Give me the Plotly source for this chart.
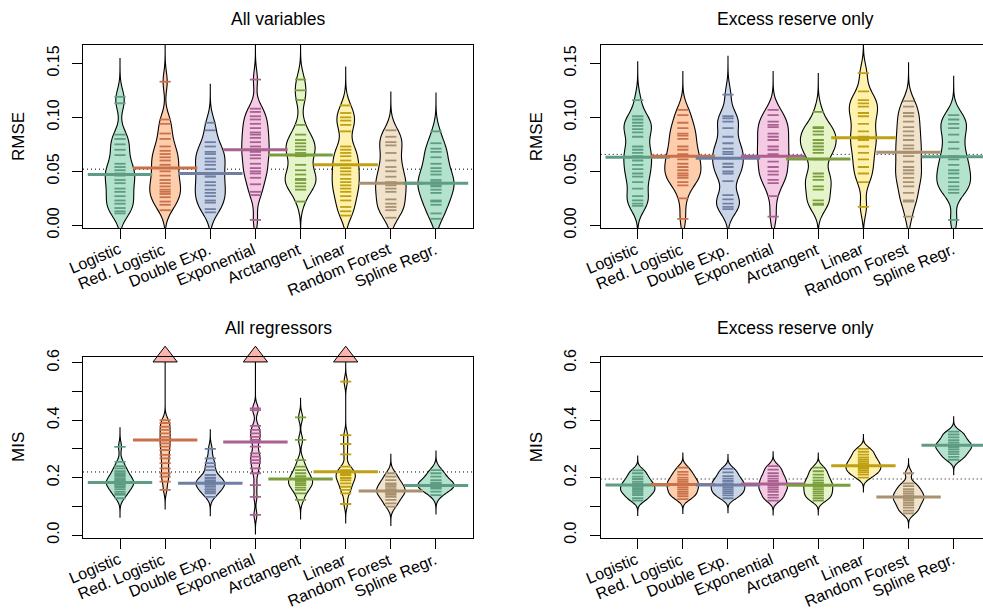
import plotly.graph_objects as go

# ---------------- data ----------------
categories = ["Logistic", "Red. Logistic", "Double Exp.", "Exponential",
              "Arctangent", "Linear", "Random Forest", "Spline Regr."]
positions = [1, 2, 3, 4, 5, 6, 7, 8]

panel_titles = ["All variables", "Excess reserve only", "All regressors", "Excess reserve only"]
y_labels = ["RMSE", "RMSE", "MIS", "MIS"]

# Panel 1: RMSE, all variables
rmse_all = [
    [0.119, 0.113, 0.084, 0.080, 0.075, 0.070, 0.065, 0.057, 0.054, 0.051, 0.048, 0.046,
     0.042, 0.039, 0.034, 0.031, 0.027, 0.023, 0.020, 0.016, 0.013, 0.011],
    [0.133, 0.098, 0.094, 0.085, 0.080, 0.073, 0.069, 0.066, 0.063, 0.060, 0.056, 0.053,
     0.050, 0.046, 0.042, 0.039, 0.036, 0.033, 0.031, 0.029, 0.026, 0.022, 0.019, 0.014],
    [0.095, 0.088, 0.077, 0.073, 0.068, 0.066, 0.062, 0.059, 0.056, 0.052, 0.047, 0.045,
     0.040, 0.037, 0.033, 0.030, 0.027, 0.023, 0.021, 0.015, 0.012],
    [0.135, 0.108, 0.105, 0.101, 0.098, 0.094, 0.090, 0.086, 0.084, 0.081, 0.077, 0.073,
     0.070, 0.068, 0.065, 0.062, 0.057, 0.053, 0.050, 0.048, 0.044, 0.038, 0.031, 0.028, 0.005],
    [0.135, 0.125, 0.116, 0.093, 0.084, 0.079, 0.076, 0.073, 0.070, 0.067, 0.064, 0.056,
     0.051, 0.047, 0.043, 0.042, 0.039, 0.036, 0.033, 0.022],
    [0.111, 0.104, 0.100, 0.097, 0.093, 0.087, 0.073, 0.070, 0.067, 0.064, 0.060, 0.056,
     0.053, 0.050, 0.047, 0.043, 0.040, 0.037, 0.034, 0.031, 0.027, 0.023, 0.017, 0.013, 0.009],
    [0.088, 0.082, 0.077, 0.074, 0.067, 0.060, 0.054, 0.050, 0.045, 0.040, 0.037, 0.034,
     0.031, 0.024, 0.020, 0.017, 0.014, 0.007],
    [0.087, 0.076, 0.071, 0.068, 0.063, 0.057, 0.053, 0.050, 0.047, 0.042, 0.040, 0.037,
     0.036, 0.033, 0.030, 0.023, 0.022, 0.019, 0.011, 0.006],
]
rmse_all_means = [0.047, 0.053, 0.048, 0.070, 0.065, 0.056, 0.039, 0.039]
rmse_all_overall = 0.052

# Panel 2: RMSE, excess reserve only
rmse_er = [
    [0.116, 0.101, 0.098, 0.095, 0.092, 0.089, 0.086, 0.082, 0.073, 0.070, 0.067, 0.064,
     0.060, 0.056, 0.052, 0.048, 0.045, 0.040, 0.034, 0.027, 0.023, 0.020, 0.018],
    [0.107, 0.102, 0.095, 0.090, 0.085, 0.083, 0.080, 0.073, 0.070, 0.066, 0.064, 0.061,
     0.057, 0.054, 0.051, 0.048, 0.046, 0.044, 0.040, 0.037, 0.025, 0.006],
    [0.121, 0.101, 0.099, 0.096, 0.090, 0.082, 0.076, 0.071, 0.068, 0.066, 0.062, 0.057,
     0.054, 0.050, 0.048, 0.041, 0.028, 0.024, 0.020, 0.017, 0.015],
    [0.107, 0.102, 0.096, 0.093, 0.091, 0.085, 0.082, 0.079, 0.073, 0.070, 0.066, 0.064,
     0.059, 0.054, 0.050, 0.047, 0.042, 0.039, 0.027, 0.008],
    [0.105, 0.091, 0.090, 0.087, 0.084, 0.079, 0.076, 0.073, 0.070, 0.067, 0.061, 0.048,
     0.045, 0.042, 0.036, 0.033, 0.023, 0.020, 0.019],
    [0.141, 0.124, 0.116, 0.113, 0.110, 0.104, 0.101, 0.094, 0.087, 0.082, 0.079, 0.073,
     0.067, 0.061, 0.054, 0.048, 0.040, 0.017],
    [0.115, 0.110, 0.104, 0.101, 0.096, 0.091, 0.087, 0.083, 0.079, 0.074, 0.071, 0.067,
     0.064, 0.059, 0.054, 0.051, 0.048, 0.044, 0.040, 0.036, 0.030, 0.023, 0.022, 0.008],
    [0.102, 0.098, 0.094, 0.090, 0.084, 0.077, 0.071, 0.064, 0.061, 0.056, 0.051, 0.048,
     0.044, 0.040, 0.036, 0.033, 0.030, 0.005],
]
rmse_er_means = [0.063, 0.064, 0.062, 0.064, 0.0615, 0.081, 0.0676, 0.0636]
rmse_er_overall = 0.0657

# Panel 3: MIS, all regressors (values above 0.6 are off-scale)
mis_all = [
    [0.307, 0.255, 0.240, 0.232, 0.222, 0.215, 0.209, 0.203, 0.197, 0.192, 0.188, 0.185,
     0.180, 0.178, 0.175, 0.170, 0.167, 0.160, 0.151, 0.145, 0.140, 0.128],
    [1.400, 1.100, 0.950, 0.820, 0.720, 0.400, 0.390, 0.377, 0.366, 0.354, 0.342, 0.331,
     0.319, 0.308, 0.296, 0.279, 0.267, 0.250, 0.232, 0.215, 0.203, 0.186, 0.157],
    [0.300, 0.267, 0.250, 0.238, 0.226, 0.209, 0.200, 0.197, 0.190, 0.186, 0.183, 0.180,
     0.177, 0.175, 0.168, 0.160, 0.157, 0.150, 0.145, 0.133],
    [1.300, 1.050, 0.900, 0.800, 0.700, 0.441, 0.435, 0.380, 0.366, 0.354, 0.342, 0.331,
     0.308, 0.284, 0.273, 0.261, 0.250, 0.232, 0.215, 0.174, 0.133, 0.070],
    [0.410, 0.331, 0.261, 0.238, 0.226, 0.215, 0.205, 0.197, 0.190, 0.186, 0.180, 0.174,
     0.165, 0.157, 0.145, 0.122],
    [1.200, 0.950, 0.850, 0.534, 0.348, 0.317, 0.281, 0.238, 0.226, 0.220, 0.215, 0.209,
     0.200, 0.197, 0.190, 0.180, 0.168, 0.157, 0.145, 0.108],
    [0.215, 0.203, 0.191, 0.180, 0.175, 0.168, 0.160, 0.157, 0.150, 0.145, 0.140, 0.133,
     0.122, 0.110, 0.099],
    [0.226, 0.215, 0.203, 0.191, 0.182, 0.180, 0.174, 0.170, 0.165, 0.162, 0.151, 0.139],
]
mis_all_means = [0.183, 0.331, 0.180, 0.324, 0.195, 0.2205, 0.153, 0.172]
mis_all_overall = 0.2195

# Panel 4: MIS, excess reserve only
mis_er = [
    [0.225, 0.215, 0.203, 0.195, 0.186, 0.180, 0.174, 0.168, 0.162, 0.157, 0.151, 0.145,
     0.139, 0.128, 0.120],
    [0.235, 0.220, 0.210, 0.200, 0.192, 0.185, 0.178, 0.172, 0.165, 0.158, 0.150, 0.143,
     0.135, 0.125],
    [0.230, 0.218, 0.205, 0.196, 0.188, 0.180, 0.174, 0.167, 0.160, 0.153, 0.146, 0.138, 0.128],
    [0.240, 0.228, 0.215, 0.205, 0.196, 0.188, 0.180, 0.172, 0.165, 0.158, 0.150, 0.140,
     0.130, 0.120],
    [0.235, 0.222, 0.210, 0.200, 0.190, 0.182, 0.175, 0.168, 0.160, 0.152, 0.145, 0.137,
     0.128, 0.120],
    [0.300, 0.290, 0.280, 0.270, 0.262, 0.255, 0.248, 0.242, 0.236, 0.230, 0.224, 0.218,
     0.210, 0.200],
    [0.215, 0.180, 0.170, 0.160, 0.152, 0.145, 0.138, 0.132, 0.126, 0.120, 0.112, 0.104,
     0.095, 0.085, 0.075],
    [0.360, 0.350, 0.340, 0.330, 0.322, 0.315, 0.310, 0.305, 0.298, 0.290, 0.282, 0.272, 0.262],
]
mis_er_means = [0.174, 0.176, 0.174, 0.178, 0.173, 0.241, 0.132, 0.313]
mis_er_overall = 0.195

rmse_tickvals = [0.00, 0.05, 0.10, 0.15]
rmse_ticktext = ["0.00", "0.05", "0.10", "0.15"]
mis_tickvals = [0.0, 0.1, 0.2, 0.3, 0.4, 0.5, 0.6]
mis_ticktext = ["0.0", "", "0.2", "", "0.4", "", "0.6"]

# kernel bandwidth per panel (density estimate of each bean)
bandwidths = [0.009, 0.009, 0.017, 0.013]

# ---------------- style ----------------
fill_colors = ["#B3E2CD", "#FDCDAC", "#CBD5E8", "#F4CAE4", "#E6F5C9", "#FFF2AE", "#F1E2CC", "#B3E2CD"]
line_colors = ["#5E9C84", "#C9714A", "#6E7FA3", "#A9618F", "#7A9E3C", "#BFA012", "#A89171", "#5E9C84"]
arrow_color = "#FBB4AE"
FONT = "Liberation Sans, Arial, Helvetica, sans-serif"
FS_TICK = 16
FS_LAB = 17
FS_TITLE = 17.5

W, H = 983, 615
# panel boxes in pixels: (left, right, top, bottom)
boxes = [(83, 473, 45, 228), (600.7, 983, 45, 228),
         (83, 473, 356.7, 538.3), (600.7, 983, 356.7, 538.3)]
px_per_unit = 390 / 8.64
x_left = 0.18
y_ranges = [[-0.0025, 0.167], [-0.0025, 0.167], [-0.0115, 0.621], [-0.0115, 0.621]]
title_px = [19, 19, 328, 328]
ylabel_px = [18.5, 536.7, 18.5, 536.7]

panels = [
    (rmse_all, rmse_all_means, rmse_all_overall, rmse_tickvals, rmse_ticktext),
    (rmse_er, rmse_er_means, rmse_er_overall, rmse_tickvals, rmse_ticktext),
    (mis_all, mis_all_means, mis_all_overall, mis_tickvals, mis_ticktext),
    (mis_er, mis_er_means, mis_er_overall, mis_tickvals, mis_ticktext),
]

fig = go.Figure()
layout = dict(width=W, height=H, margin=dict(l=0, r=0, t=0, b=0, autoexpand=False),
              paper_bgcolor="white", plot_bgcolor="white", showlegend=False,
              violinmode="overlay", violingap=0.2, violingroupgap=0,
              font=dict(family=FONT, size=FS_TICK, color="black"))
shapes = []
annotations = []

for k, (data, means, overall, tv, tt) in enumerate(panels):
    sfx = "" if k == 0 else str(k + 1)
    xa, ya = "x" + sfx, "y" + sfx
    l, r, t, b = boxes[k]
    x_right = x_left + (r - l) / px_per_unit
    right_side = k % 2 == 1
    bw = bandwidths[k]
    layout["xaxis" + sfx] = dict(
        domain=[l / W, r / W], range=[x_left, x_right], anchor=ya,
        tickmode="array", tickvals=positions, ticktext=categories,
        showticklabels=False,
        ticks="outside", ticklen=10, tickwidth=1.2, tickcolor="black",
        showline=True, linecolor="black", linewidth=1.2,
        mirror=True, showgrid=False, zeroline=False, automargin=False)
    layout["yaxis" + sfx] = dict(
        domain=[1 - b / H, 1 - t / H], range=y_ranges[k], anchor=xa,
        tickmode="array", tickvals=tv, ticktext=tt, tickangle=-90,
        ticks="outside", ticklen=10, tickwidth=1.2, tickcolor="black",
        showline=True, linecolor="black", linewidth=1.2,
        mirror=(False if right_side else True), showgrid=False, zeroline=False,
        automargin=False,
        tickfont=dict(family=FONT, size=FS_TICK), ticklabelstandoff=7)

    # overall mean dotted line
    shapes.append(dict(type="line", xref=xa + " domain", yref=ya, x0=0, x1=1,
                       y0=overall, y1=overall, layer="below",
                       line=dict(color="black", width=1, dash="1px,3px")))

    for i, vals in enumerate(data):
        pos = positions[i]
        # no explicit width -> beans of one panel share a common density scale
        fig.add_trace(go.Violin(
            x0=pos, y=vals, xaxis=xa, yaxis=ya, orientation="v",
            fillcolor=fill_colors[i], line=dict(color="black", width=1.1),
            scalegroup="panel%d" % k, scalemode="width",
            bandwidth=bw, spanmode="manual",
            span=[min(vals) - 4 * bw, max(vals) + 4 * bw],
            points=False, box_visible=False, meanline_visible=False,
            opacity=1, hoverinfo="skip"))
        fig.add_trace(go.Scatter(
            x=[pos] * len(vals), y=vals, xaxis=xa, yaxis=ya, mode="markers",
            marker=dict(symbol="line-ew", size=8,
                        line=dict(color=line_colors[i], width=1.8)),
            hoverinfo="skip"))
        fig.add_trace(go.Scatter(
            x=[pos], y=[means[i]], xaxis=xa, yaxis=ya, mode="markers",
            marker=dict(symbol="line-ew", size=46,
                        line=dict(color=line_colors[i], width=3)),
            hoverinfo="skip"))
        # off-scale indicator
        ytop = y_ranges[k][1]
        if max(vals) > ytop:
            fig.add_trace(go.Scatter(
                x=[pos], y=[ytop], xaxis=xa, yaxis=ya, mode="markers",
                marker=dict(symbol="triangle-up", size=21, color=arrow_color,
                            line=dict(color="black", width=1)),
                cliponaxis=False, hoverinfo="skip"))

        # rotated category label under the tick
        annotations.append(dict(text=categories[i], xref=xa, yref=ya + " domain",
                                x=pos, y=0, xanchor="right", yanchor="top",
                                xshift=4, yshift=-11, textangle=-23, showarrow=False,
                                borderpad=0, font=dict(family=FONT, size=FS_TICK)))

    # panel title (centred over a 390 px wide box)
    annotations.append(dict(text=panel_titles[k], xref=xa + " domain", yref=ya + " domain",
                            x=195.0 / (r - l), y=(b - title_px[k]) / (b - t),
                            xanchor="center", yanchor="middle", showarrow=False,
                            font=dict(family=FONT, size=FS_TITLE)))
    # y axis label
    annotations.append(dict(text=y_labels[k], xref=xa + " domain", yref=ya + " domain",
                            x=(ylabel_px[k] - l) / (r - l), y=0.5, textangle=-90,
                            xanchor="center", yanchor="middle", showarrow=False,
                            font=dict(family=FONT, size=FS_LAB)))

layout["shapes"] = shapes
layout["annotations"] = annotations
fig.update_layout(**layout)
fig.write_html("out.html")
